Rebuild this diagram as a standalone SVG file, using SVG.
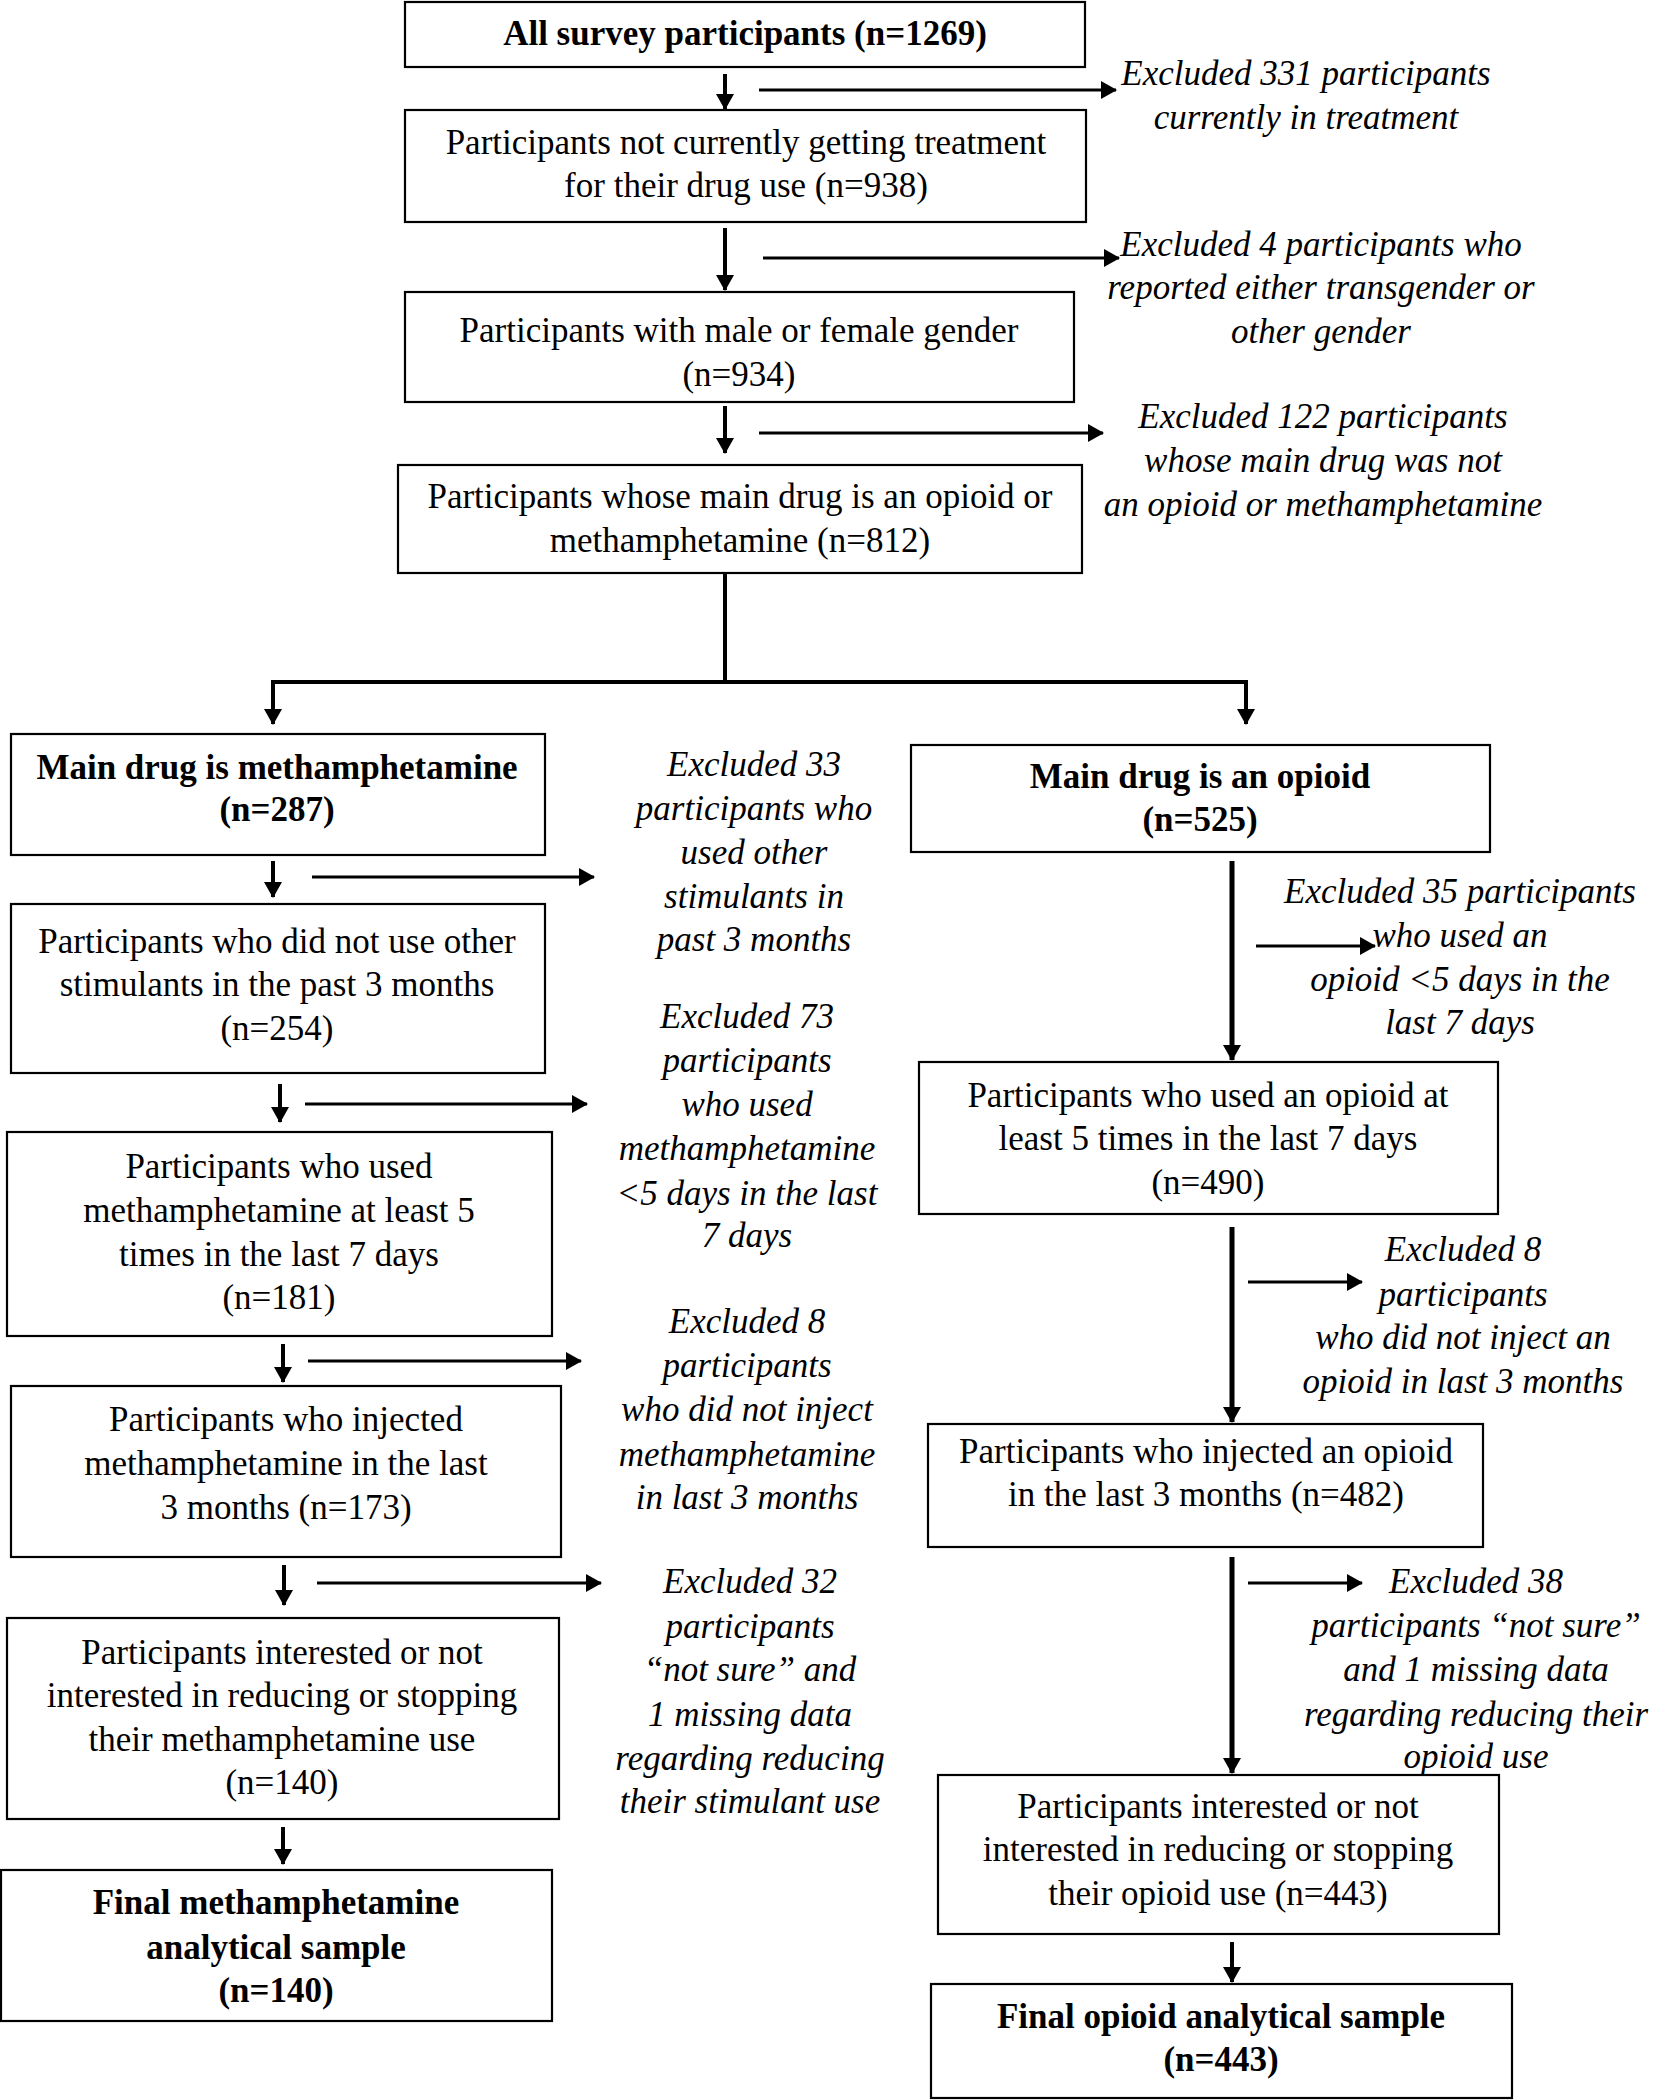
<svg xmlns="http://www.w3.org/2000/svg" width="1653" height="2100" viewBox="0 0 1653 2100">
<style>
.box{fill:#fff;stroke:#000;stroke-width:2.2}
.t{font-family:"Liberation Serif","Times New Roman",serif;font-size:35px;fill:#000;text-anchor:middle}
.b{font-weight:bold}
.i{font-style:italic}
.c{fill:none;stroke:#000}
.s{stroke-width:4}
.h{stroke-width:3}
.k{stroke-width:5}
</style>
<defs>
<marker id="ah" markerUnits="userSpaceOnUse" markerWidth="16" markerHeight="18" refX="15" refY="9" orient="auto">
<path d="M0,0 L16,9 L0,18 z" fill="#000"/>
</marker>
</defs>
<rect width="1653" height="2100" fill="#fff"/>

<g id="connectors">
<line class="c s" x1="725" y1="74" x2="725" y2="109" marker-end="url(#ah)"/>
<line class="c h" x1="759" y1="90" x2="1116" y2="90" marker-end="url(#ah)"/>
<line class="c s" x1="725" y1="228" x2="725" y2="290" marker-end="url(#ah)"/>
<line class="c h" x1="763" y1="258" x2="1119" y2="258" marker-end="url(#ah)"/>
<line class="c s" x1="725" y1="406" x2="725" y2="453" marker-end="url(#ah)"/>
<line class="c h" x1="759" y1="433" x2="1103" y2="433" marker-end="url(#ah)"/>
<polyline class="c s" points="725,573 725,682 273,682 273,724" marker-end="url(#ah)"/>
<polyline class="c s" points="725,682 1246,682 1246,724" marker-end="url(#ah)"/>

<line class="c s" x1="273" y1="861" x2="273" y2="897" marker-end="url(#ah)"/>
<line class="c h" x1="312" y1="877" x2="594" y2="877" marker-end="url(#ah)"/>
<line class="c s" x1="280" y1="1084" x2="280" y2="1122" marker-end="url(#ah)"/>
<line class="c h" x1="305" y1="1104" x2="587" y2="1104" marker-end="url(#ah)"/>
<line class="c s" x1="283" y1="1344" x2="283" y2="1382" marker-end="url(#ah)"/>
<line class="c h" x1="308" y1="1361" x2="581" y2="1361" marker-end="url(#ah)"/>
<line class="c s" x1="284" y1="1565" x2="284" y2="1605" marker-end="url(#ah)"/>
<line class="c h" x1="317" y1="1583" x2="601" y2="1583" marker-end="url(#ah)"/>
<line class="c s" x1="283" y1="1827" x2="283" y2="1864" marker-end="url(#ah)"/>

<line class="c k" x1="1232" y1="861" x2="1232" y2="1060" marker-end="url(#ah)"/>
<line class="c h" x1="1256" y1="946" x2="1375" y2="946" marker-end="url(#ah)"/>
<line class="c k" x1="1232" y1="1227" x2="1232" y2="1422" marker-end="url(#ah)"/>
<line class="c h" x1="1248" y1="1282" x2="1362" y2="1282" marker-end="url(#ah)"/>
<line class="c k" x1="1232" y1="1557" x2="1232" y2="1773" marker-end="url(#ah)"/>
<line class="c h" x1="1248" y1="1583" x2="1362" y2="1583" marker-end="url(#ah)"/>
<line class="c s" x1="1232" y1="1942" x2="1232" y2="1982" marker-end="url(#ah)"/>
</g>

<g id="n-all">
<rect class="box" x="405" y="2" width="680" height="65"/>
<text class="t b" x="745" y="45">All survey participants (n=1269)</text>
</g>
<g id="x-treatment">
<text class="t i" x="1306" y="85">Excluded 331 participants</text>
<text class="t i" x="1306" y="129">currently in treatment</text>
</g>
<g id="n-notreat">
<rect class="box" x="405" y="110" width="681" height="112"/>
<text class="t" x="746" y="154">Participants not currently getting treatment</text>
<text class="t" x="746" y="197">for their drug use (n=938)</text>
</g>
<g id="x-gender">
<text class="t i" x="1321" y="256">Excluded 4 participants who</text>
<text class="t i" x="1321" y="299">reported either transgender or</text>
<text class="t i" x="1321" y="343">other gender</text>
</g>
<g id="n-gender">
<rect class="box" x="405" y="292" width="669" height="110"/>
<text class="t" x="739" y="342">Participants with male or female gender</text>
<text class="t" x="739" y="386">(n=934)</text>
</g>
<g id="x-maindrug">
<text class="t i" x="1323" y="428">Excluded 122 participants</text>
<text class="t i" x="1323" y="472">whose main drug was not</text>
<text class="t i" x="1323" y="516">an opioid or methamphetamine</text>
</g>
<g id="n-maindrug">
<rect class="box" x="398" y="465" width="684" height="108"/>
<text class="t" x="740" y="508">Participants whose main drug is an opioid or</text>
<text class="t" x="740" y="552">methamphetamine (n=812)</text>
</g>

<g id="m1">
<rect class="box" x="11" y="734" width="534" height="121"/>
<text class="t b" x="277" y="779">Main drug is methamphetamine</text>
<text class="t b" x="277" y="821">(n=287)</text>
</g>
<g id="mx1">
<text class="t i" x="754" y="776">Excluded 33</text>
<text class="t i" x="754" y="820">participants who</text>
<text class="t i" x="754" y="864">used other</text>
<text class="t i" x="754" y="908">stimulants in</text>
<text class="t i" x="754" y="951">past 3 months</text>
</g>
<g id="m2">
<rect class="box" x="11" y="904" width="534" height="169"/>
<text class="t" x="277" y="953">Participants who did not use other</text>
<text class="t" x="277" y="996">stimulants in the past 3 months</text>
<text class="t" x="277" y="1040">(n=254)</text>
</g>
<g id="mx2">
<text class="t i" x="747" y="1028">Excluded 73</text>
<text class="t i" x="747" y="1072">participants</text>
<text class="t i" x="747" y="1116">who used</text>
<text class="t i" x="747" y="1160">methamphetamine</text>
<text class="t i" x="747" y="1205">&lt;5 days in the last</text>
<text class="t i" x="747" y="1247">7 days</text>
</g>
<g id="m3">
<rect class="box" x="7" y="1132" width="545" height="204"/>
<text class="t" x="279" y="1178">Participants who used</text>
<text class="t" x="279" y="1222">methamphetamine at least 5</text>
<text class="t" x="279" y="1266">times in the last 7 days</text>
<text class="t" x="279" y="1309">(n=181)</text>
</g>
<g id="mx3">
<text class="t i" x="747" y="1333">Excluded 8</text>
<text class="t i" x="747" y="1377">participants</text>
<text class="t i" x="747" y="1421">who did not inject</text>
<text class="t i" x="747" y="1466">methamphetamine</text>
<text class="t i" x="747" y="1509">in last 3 months</text>
</g>
<g id="m4">
<rect class="box" x="11" y="1386" width="550" height="171"/>
<text class="t" x="286" y="1431">Participants who injected</text>
<text class="t" x="286" y="1475">methamphetamine in the last</text>
<text class="t" x="286" y="1519">3 months (n=173)</text>
</g>
<g id="mx4">
<text class="t i" x="750" y="1593">Excluded 32</text>
<text class="t i" x="750" y="1638">participants</text>
<text class="t i" x="750" y="1681">“not sure” and</text>
<text class="t i" x="750" y="1726">1 missing data</text>
<text class="t i" x="750" y="1770">regarding reducing</text>
<text class="t i" x="750" y="1813">their stimulant use</text>
</g>
<g id="m5">
<rect class="box" x="7" y="1618" width="552" height="201"/>
<text class="t" x="282" y="1664">Participants interested or not</text>
<text class="t" x="282" y="1707">interested in reducing or stopping</text>
<text class="t" x="282" y="1751">their methamphetamine use</text>
<text class="t" x="282" y="1794">(n=140)</text>
</g>
<g id="m6">
<rect class="box" x="1" y="1870" width="551" height="151"/>
<text class="t b" x="276" y="1914">Final methamphetamine</text>
<text class="t b" x="276" y="1959">analytical sample</text>
<text class="t b" x="276" y="2002">(n=140)</text>
</g>

<g id="o1">
<rect class="box" x="911" y="745" width="579" height="107"/>
<text class="t b" x="1200" y="788">Main drug is an opioid</text>
<text class="t b" x="1200" y="831">(n=525)</text>
</g>
<g id="ox1">
<text class="t i" x="1460" y="903">Excluded 35 participants</text>
<text class="t i" x="1460" y="947">who used an</text>
<text class="t i" x="1460" y="991">opioid &lt;5 days in the</text>
<text class="t i" x="1460" y="1034">last 7 days</text>
</g>
<g id="o2">
<rect class="box" x="919" y="1062" width="579" height="152"/>
<text class="t" x="1208" y="1107">Participants who used an opioid at</text>
<text class="t" x="1208" y="1150">least 5 times in the last 7 days</text>
<text class="t" x="1208" y="1194">(n=490)</text>
</g>
<g id="ox2">
<text class="t i" x="1463" y="1261">Excluded 8</text>
<text class="t i" x="1463" y="1306">participants</text>
<text class="t i" x="1463" y="1349">who did not inject an</text>
<text class="t i" x="1463" y="1393">opioid in last 3 months</text>
</g>
<g id="o3">
<rect class="box" x="928" y="1424" width="555" height="123"/>
<text class="t" x="1206" y="1463">Participants who injected an opioid</text>
<text class="t" x="1206" y="1506">in the last 3 months (n=482)</text>
</g>
<g id="ox3">
<text class="t i" x="1476" y="1593">Excluded 38</text>
<text class="t i" x="1476" y="1637">participants “not sure”</text>
<text class="t i" x="1476" y="1681">and 1 missing data</text>
<text class="t i" x="1476" y="1726">regarding reducing their</text>
<text class="t i" x="1476" y="1768">opioid use</text>
</g>
<g id="o4">
<rect class="box" x="938" y="1775" width="561" height="159"/>
<text class="t" x="1218" y="1818">Participants interested or not</text>
<text class="t" x="1218" y="1861">interested in reducing or stopping</text>
<text class="t" x="1218" y="1905">their opioid use (n=443)</text>
</g>
<g id="o5">
<rect class="box" x="931" y="1984" width="581" height="114"/>
<text class="t b" x="1221" y="2028">Final opioid analytical sample</text>
<text class="t b" x="1221" y="2071">(n=443)</text>
</g>
</svg>
